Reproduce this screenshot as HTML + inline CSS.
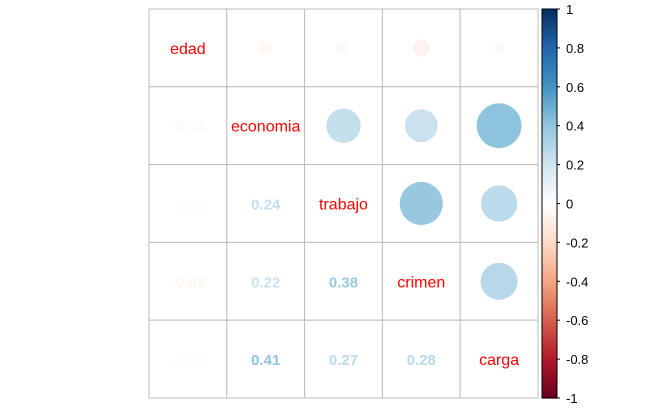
<!DOCTYPE html>
<html><head><meta charset="utf-8"><style>
html,body{margin:0;padding:0;background:#fff;}
svg{display:block;font-family:"Liberation Sans",sans-serif;}
</style></head><body>
<svg id="c" width="661" height="408"></svg>
<script>
const vars=["edad","economia","trabajo","crimen","carga"];
const corrRows=[
[1,-0.04,-0.03,-0.06,-0.03],
[-0.04,1,0.24,0.22,0.41],
[-0.03,0.24,1,0.38,0.27],
[-0.06,0.22,0.38,1,0.28],
[-0.03,0.41,0.27,0.28,1]];
const legendTicks=[1,0.8,0.6,0.4,0.2,0,-0.2,-0.4,-0.6,-0.8,-1];
const pal=["#67001F","#B2182B","#D6604D","#F4A582","#FDDBC7","#FFFFFF","#D1E5F0","#92C5DE","#4393C3","#2166AC","#053061"];
const NS="http://www.w3.org/2000/svg";
const svg=document.getElementById('c');
const X0=149,Y0=9,W=389,H=389,n=vars.length,cw=W/n,ch=H/n;
function hex(h){return [1,3,5].map(i=>parseInt(h.substr(i,2),16));}
function col(v){let t=(v+1)/2*(pal.length-1);let i=Math.min(Math.floor(t),pal.length-2);let f=t-i;
 const a=hex(pal[i]),b=hex(pal[i+1]);return "rgb("+a.map((x,k)=>Math.round(x+(b[k]-x)*f)).join(",")+")";}
function el(t,a){const e=document.createElementNS(NS,t);for(const k in a)e.setAttribute(k,a[k]);svg.appendChild(e);return e;}
for(let i=0;i<n;i++)for(let j=0;j<n;j++){
 const cx=X0+cw*(j+0.5),cy=Y0+ch*(i+0.5),v=corrRows[i][j];
 const r=el('rect',{x:X0+cw*j,y:Y0+ch*i,width:cw,height:ch,fill:'#fff',stroke:'#bebebe','stroke-width':1});
 
 
 if(i===j){const t=el('text',{x:cx,y:cy+6,'text-anchor':'middle','font-size':16,fill:'#ff0000'});t.textContent=vars[i];
  
  }
 else if(j>i){const c=el('circle',{cx:cx,cy:cy,r:35*Math.sqrt(Math.abs(v)),fill:col(v)});
  
  }
 else{const t=el('text',{x:cx,y:cy+6,'text-anchor':'middle','font-size':15,'font-weight':'bold',fill:col(v)});t.textContent=v.toFixed(2);
  
  }
}
const LX=542,LW=15,LY0=9,LH=389;
for(let k=0;k<200;k++){const v=1-2*(k+0.5)/200;
 const r=el('rect',{x:LX,y:LY0+LH*k/200,width:LW,height:LH/200+0.6,fill:col(v)});
 
 }
const bd=el('rect',{x:LX,y:LY0,width:LW,height:LH,fill:'none',stroke:'#000','stroke-width':1});


legendTicks.forEach(v=>{const y=LY0+LH*(1-v)/2;
 el('line',{x1:LX+LW,x2:LX+LW+3,y1:y,y2:y,stroke:'#000'});
 const t=el('text',{x:566,y:y+5,'font-size':13,fill:'#000'});t.textContent=String(v);
 
 });
</script>
</body></html>
